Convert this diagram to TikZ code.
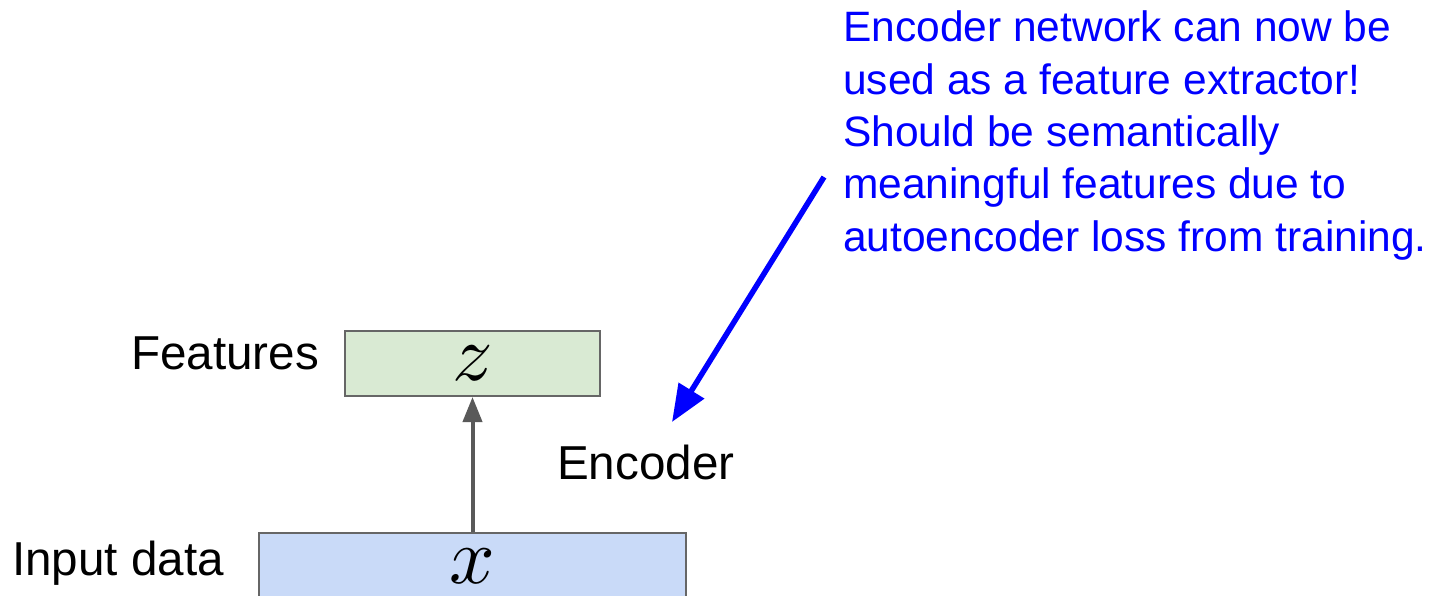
\documentclass[tikz,border=0pt]{standalone}
\usepackage{graphicx}
\usepackage{fontspec}
\setmainfont{Liberation Sans}
\usetikzlibrary{arrows.meta}
\definecolor{zfill}{HTML}{D9EAD3}
\definecolor{xfill}{HTML}{C9DAF8}
\definecolor{boxline}{HTML}{666666}
\definecolor{arrgray}{HTML}{595959}
\definecolor{noteblue}{HTML}{0000FF}
\tikzset{
  databox/.style={draw=boxline, line width=2pt, inner sep=0pt},
  lbl/.style={inner sep=0pt, anchor=base west, font=\fontsize{47.6}{56}\selectfont},
  mathlbl/.style={inner sep=0pt},
  grayarrow/.style={draw=arrgray, line width=4pt, -{Triangle[length=25pt,width=19pt]}},
  bluearrow/.style={draw=noteblue, line width=5.5pt, -{Triangle[length=37pt,width=29pt]}},
}
\begin{document}
\begin{tikzpicture}[x=1pt,y=-1pt]
\useasboundingbox (0,0) rectangle (1429,596);
\clip (0,0) rectangle (1429,596);
\node[databox, fill=zfill, minimum width=255pt, minimum height=65pt] (zb) at (472.5,363.5) {};
\node[databox, fill=xfill, minimum width=427pt, minimum height=120pt] (xb) at (472.5,593) {};
\node[mathlbl] (zl) at (472.5,363) {\scalebox{8}{$z$}};
\node[mathlbl] (xl) at (472.5,566) {\scalebox{8}{$x$}};
\draw[grayarrow] (xb.north) -- (zb.south);
\node[lbl] (feat) at (131,369) {Features};
\node[lbl] (inp) at (12,575) {Input data};
\node[lbl] (enc) at (557,479) {Encoder};
\node[inner sep=0pt, anchor=north west, align=left, text=noteblue,
      font=\fontsize{42.5}{52.3}\selectfont] (note) at (843,11)
  {Encoder network can now be\\used as a feature extractor!\\Should be semantically\\meaningful features due to\\autoencoder loss from training.};
\coordinate (astart) at (824,177);
\coordinate (aend) at (672,422);
\draw[bluearrow] (astart) -- (aend);
\end{tikzpicture}
\end{document}
